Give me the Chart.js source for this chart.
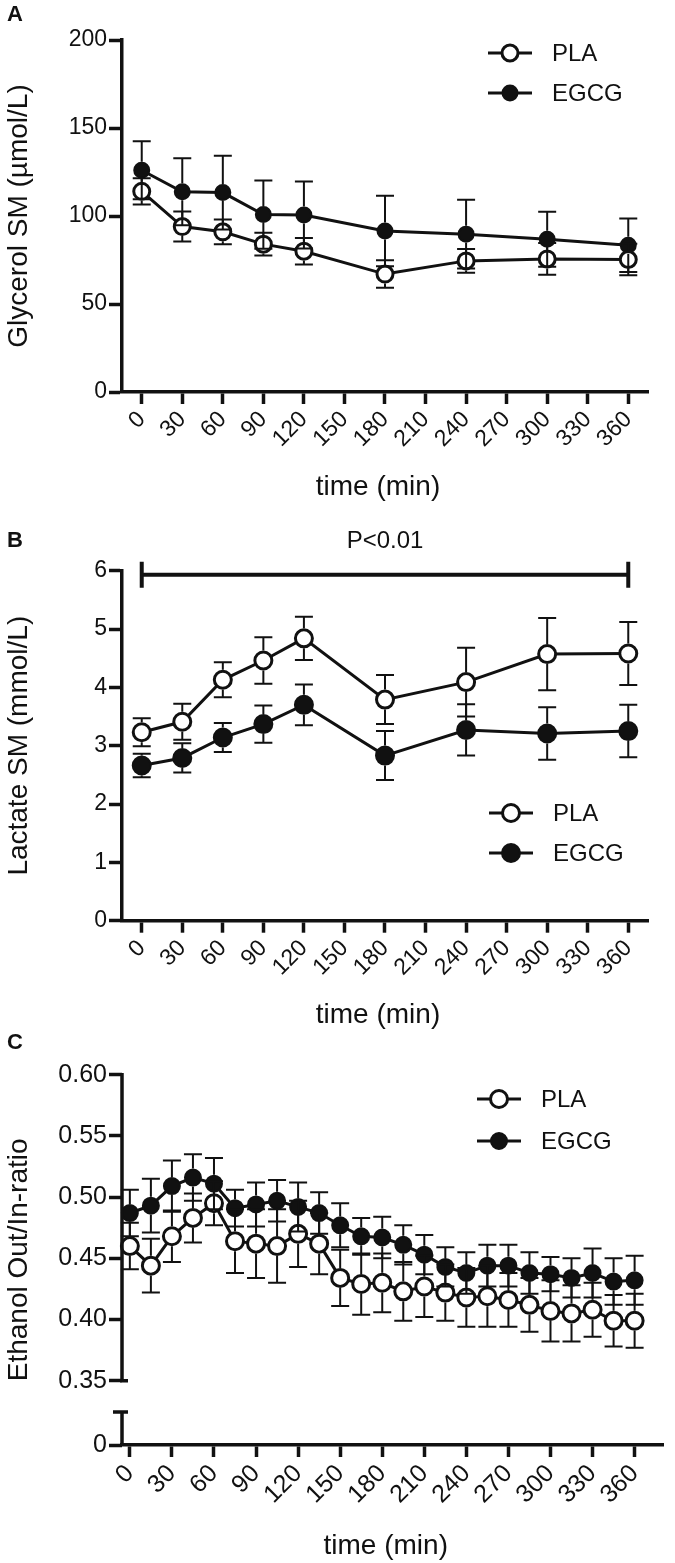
<!DOCTYPE html>
<html>
<head>
<meta charset="utf-8">
<script src="https://cdn.jsdelivr.net/npm/chart.js@4.4.1/dist/chart.umd.min.js"></script>
<style>
  html, body { margin: 0; padding: 0; background: #fff; }
  #wrap { position: relative; width: 675px; height: 1563px; overflow: hidden; }
  canvas { position: absolute; left: 0; }
</style>
</head>
<body>
<div id="wrap">
  <canvas id="chartA" width="675" height="530" style="top:0px"></canvas>
  <canvas id="chartB" width="675" height="530" style="top:510px"></canvas>
  <canvas id="chartC" width="675" height="543" style="top:1020px"></canvas>
</div>
<script>
const INK = '#111111';
Chart.defaults.font.family = "'Liberation Sans', Arial, Helvetica, sans-serif";
Chart.defaults.color = INK;

// A + B: sampling times (min)
const timeAB = [0, 30, 60, 90, 120, 180, 240, 300, 360];
const xTicks = [0, 30, 60, 90, 120, 150, 180, 210, 240, 270, 300, 330, 360];

// A: glycerol SM (umol/L), mean and SD
const glycerolPLA = [114, 94, 91, 84, 80, 67, 74.5, 75.6, 75.3];
const glycerolPLAsd = [7.5, 8.5, 7, 6.5, 7.5, 7.8, 6.8, 9, 9];
const glycerolEGCG = [126, 113.8, 113.3, 100.8, 100.6, 91.5, 89.7, 86.8, 83.4];
const glycerolEGCGsd = [16.5, 19, 21, 19.4, 19, 20, 19.5, 15.6, 15.2];
const yTicksA = [0, 50, 100, 150, 200];

// B: lactate SM (mmol/L)
const lactatePLA = [3.23, 3.41, 4.13, 4.46, 4.84, 3.79, 4.09, 4.57, 4.58];
const lactatePLAsd = [0.24, 0.31, 0.30, 0.40, 0.37, 0.42, 0.59, 0.62, 0.54];
const lactateEGCG = [2.66, 2.79, 3.14, 3.37, 3.70, 2.83, 3.27, 3.21, 3.25];
const lactateEGCGsd = [0.20, 0.25, 0.25, 0.32, 0.35, 0.42, 0.44, 0.45, 0.45];
const yTicksB = [0, 1, 2, 3, 4, 5, 6];

// C: ethanol out/in ratio, every 15 min
const timeC = [0, 15, 30, 45, 60, 75, 90, 105, 120, 135, 150, 165, 180,
               195, 210, 225, 240, 255, 270, 285, 300, 315, 330, 345, 360];
const ethanolPLA = [0.460, 0.444, 0.468, 0.483, 0.495, 0.464, 0.462, 0.460, 0.470, 0.462, 0.434, 0.429, 0.430,
                    0.423, 0.427, 0.422, 0.418, 0.419, 0.416, 0.412, 0.407, 0.405, 0.408, 0.399, 0.399];
const ethanolPLAsd = [0.019, 0.022, 0.021, 0.020, 0.018, 0.026, 0.028, 0.030, 0.027, 0.025, 0.023, 0.025, 0.024,
                      0.024, 0.025, 0.023, 0.024, 0.025, 0.022, 0.022, 0.025, 0.023, 0.022, 0.021, 0.022];
const ethanolEGCG = [0.487, 0.493, 0.509, 0.516, 0.511, 0.491, 0.494, 0.497, 0.492, 0.487, 0.477, 0.468, 0.467,
                     0.461, 0.453, 0.443, 0.438, 0.444, 0.444, 0.438, 0.437, 0.434, 0.438, 0.431, 0.432];
const ethanolEGCGsd = [0.019, 0.022, 0.021, 0.019, 0.021, 0.015, 0.018, 0.017, 0.020, 0.017, 0.018, 0.015, 0.017,
                       0.016, 0.016, 0.016, 0.017, 0.017, 0.017, 0.017, 0.014, 0.016, 0.020, 0.019, 0.020];
const yTicksC = [0.35, 0.40, 0.45, 0.50, 0.55, 0.60];
const yZeroC = 0.2975;   // broken axis: where "0" sits
const yBreakC = 0.3245;  // start of the short lower segment

function points(xs, ys) {
    return xs.map((x, i) => ({ x: x, y: ys[i] }));
}

function series(label, xs, ys, sd, open, radius) {
    return {
        label: label,
        data: points(xs, ys),
        sd: sd,
        borderColor: INK,
        borderWidth: 3,
        tension: 0,
        clip: false,
        pointStyle: 'circle',
        pointRadius: radius,
        pointBorderWidth: open ? 3 : 2,
        pointBorderColor: INK,
        pointBackgroundColor: open ? '#ffffff' : INK
    };
}

// error bars, legend, panel letter, x title, bracket, broken axis
const figurePlugin = {
    id: 'figure',
    afterDatasetsDraw(chart, args, opts) {
        const ctx = chart.ctx;
        const xs = chart.scales.x, ys = chart.scales.y;
        ctx.save();
        ctx.strokeStyle = INK;
        ctx.lineWidth = 2;
        chart.data.datasets.forEach(ds => {
            const outer = ds.pointRadius + ds.pointBorderWidth / 2;
            ds.data.forEach((pt, i) => {
                const px = xs.getPixelForValue(pt.x);
                const pc = ys.getPixelForValue(pt.y);
                [pt.y + ds.sd[i], pt.y - ds.sd[i]].forEach(v => {
                    const pe = ys.getPixelForValue(v);
                    const start = pe < pc ? pc - outer : pc + outer;
                    ctx.beginPath();
                    if (Math.abs(pe - pc) > outer) {
                        ctx.moveTo(px, start);
                        ctx.lineTo(px, pe);
                    }
                    ctx.moveTo(px - opts.capHalf, pe);
                    ctx.lineTo(px + opts.capHalf, pe);
                    ctx.stroke();
                });
            });
        });
        ctx.restore();
    },
    afterDraw(chart, args, opts) {
        const ctx = chart.ctx;
        const area = chart.chartArea;
        const xs = chart.scales.x, ys = chart.scales.y;
        ctx.save();
        ctx.fillStyle = INK;
        ctx.strokeStyle = INK;

        // panel letter
        ctx.font = "bold 22px 'Liberation Sans', Arial, sans-serif";
        ctx.textAlign = 'left';
        ctx.textBaseline = 'middle';
        ctx.fillText(opts.letter, 7, opts.letterY);

        // x axis title
        ctx.font = "28px 'Liberation Sans', Arial, sans-serif";
        ctx.textAlign = 'center';
        ctx.fillText('time (min)', (area.left - 14 + area.right) / 2, area.bottom + opts.xTitleOffset);

        // legend
        ctx.font = "24px 'Liberation Sans', Arial, sans-serif";
        ctx.textAlign = 'left';
        chart.data.datasets.forEach((ds, i) => {
            const lx = opts.legend.x, ly = opts.legend.y + i * opts.legend.gap;
            ctx.lineWidth = 3;
            ctx.beginPath();
            ctx.moveTo(lx - 22, ly);
            ctx.lineTo(lx + 22, ly);
            ctx.stroke();
            ctx.beginPath();
            ctx.arc(lx, ly, ds.pointRadius, 0, Math.PI * 2);
            ctx.fillStyle = ds.pointBackgroundColor;
            ctx.fill();
            ctx.lineWidth = ds.pointBorderWidth;
            ctx.stroke();
            ctx.fillStyle = INK;
            ctx.fillText(ds.label, lx + 42, ly + 1);
        });

        // significance bracket
        if (opts.bracket) {
            const b = opts.bracket;
            const x1 = xs.getPixelForValue(b.from), x2 = xs.getPixelForValue(b.to);
            const by = ys.getPixelForValue(b.y);
            ctx.lineWidth = 4;
            ctx.beginPath();
            ctx.moveTo(x1, by);
            ctx.lineTo(x2, by);
            ctx.moveTo(x1, by - 13);
            ctx.lineTo(x1, by + 13);
            ctx.moveTo(x2, by - 13);
            ctx.lineTo(x2, by + 13);
            ctx.stroke();
            ctx.textAlign = 'center';
            ctx.fillText(b.text, (x1 + x2) / 2, by - 33);
        }

        // broken y axis
        if (opts.broken) {
            const k = opts.broken;
            const L = area.left;
            const pTop = ys.getPixelForValue(k.top);
            const pLow = ys.getPixelForValue(k.low);
            const pBrk = ys.getPixelForValue(k.brk);
            ctx.lineWidth = 3.5;
            ctx.beginPath();
            ctx.moveTo(L, pTop - 1.75);
            ctx.lineTo(L, pLow + 1.75);
            ctx.moveTo(L - 2, pLow);
            ctx.lineTo(L + 6, pLow);
            ctx.moveTo(L - 9, pBrk);
            ctx.lineTo(L + 6, pBrk);
            ctx.moveTo(L, pBrk);
            ctx.lineTo(L, area.bottom);
            ctx.stroke();
        }
        ctx.restore();
    }
};

function makePanel(id, p) {
    const axisLine = { display: true, color: INK, width: 3.5 };
    return new Chart(document.getElementById(id), {
        type: 'line',
        data: { datasets: p.datasets },
        options: {
            responsive: false,
            animation: false,
            events: [],
            layout: { padding: { top: p.top, right: p.right, left: 0, bottom: 0 } },
            plugins: {
                legend: { display: false },
                tooltip: { enabled: false },
                figure: p.fig
            },
            scales: {
                x: {
                    type: 'linear',
                    min: p.xMin,
                    max: p.xMax,
                    afterBuildTicks: s => { s.ticks = xTicks.map(v => ({ value: v })); },
                    afterFit: s => { s.height = p.xHeight; },
                    grid: { drawOnChartArea: false, drawTicks: true, tickLength: 12, tickWidth: 3.5, tickColor: INK },
                    border: axisLine,
                    ticks: {
                        autoSkip: false,
                        minRotation: 45,
                        maxRotation: 45,
                        padding: 2,
                        color: INK,
                        font: { size: p.tickSize }
                    }
                },
                y: {
                    type: 'linear',
                    min: p.yMin,
                    max: p.yMax,
                    afterBuildTicks: s => { s.ticks = p.yTicks.map(v => ({ value: v })); },
                    afterFit: s => { s.width = 122; },
                    grid: { drawOnChartArea: false, drawTicks: true, tickLength: 13, tickWidth: 3.5, tickColor: INK },
                    border: p.yBorder ? axisLine : { display: false },
                    ticks: {
                        autoSkip: false,
                        padding: 2,
                        color: INK,
                        font: { size: p.tickSize },
                        callback: p.yLabel
                    },
                    title: {
                        display: true,
                        text: p.yTitle,
                        color: INK,
                        font: { size: 28 },
                        padding: { top: 2, bottom: 0 }
                    }
                }
            }
        },
        plugins: [figurePlugin]
    });
}

makePanel('chartA', {
    datasets: [
        series('PLA', timeAB, glycerolPLA, glycerolPLAsd, true, 8),
        series('EGCG', timeAB, glycerolEGCG, glycerolEGCGsd, false, 7.5)
    ],
    top: 40, right: 27, xHeight: 138,
    xMin: -14.6, xMax: 374.6,
    yMin: 0, yMax: 200, yTicks: yTicksA, yBorder: true,
    yLabel: v => String(v),
    yTitle: 'Glycerol SM (µmol/L)',
    tickSize: 23,
    fig: { letter: 'A', letterY: 15, xTitleOffset: 95, capHalf: 9,
           legend: { x: 510, y: 53, gap: 40 } }
});

makePanel('chartB', {
    datasets: [
        series('PLA', timeAB, lactatePLA, lactatePLAsd, true, 8.5),
        series('EGCG', timeAB, lactateEGCG, lactateEGCGsd, false, 9)
    ],
    top: 60.7, right: 27, xHeight: 119.3,
    xMin: -14.6, xMax: 374.6,
    yMin: 0, yMax: 6, yTicks: yTicksB, yBorder: true,
    yLabel: v => String(v),
    yTitle: 'Lactate SM (mmol/L)',
    tickSize: 23,
    fig: { letter: 'B', letterY: 31, xTitleOffset: 95, capHalf: 9,
           legend: { x: 511, y: 303, gap: 40 },
           bracket: { from: 0, to: 360, y: 5.93, text: 'P<0.01' } }
});

makePanel('chartC', {
    datasets: [
        series('PLA', timeC, ethanolPLA, ethanolPLAsd, true, 8.5),
        series('EGCG', timeC, ethanolEGCG, ethanolEGCGsd, false, 8)
    ],
    top: 54.7, right: 2, xHeight: 118,
    xMin: -5.6, xMax: 380.6,
    yMin: yZeroC, yMax: 0.60, yTicks: [yZeroC].concat(yTicksC), yBorder: false,
    yLabel: v => (v === yZeroC ? '0' : v.toFixed(2)),
    yTitle: 'Ethanol Out/In-ratio',
    tickSize: 25,
    fig: { letter: 'C', letterY: 23, xTitleOffset: 101, capHalf: 9,
           legend: { x: 499, y: 79, gap: 42 },
           broken: { top: 0.60, low: 0.35, brk: yBreakC } }
});
</script>
</body>
</html>
